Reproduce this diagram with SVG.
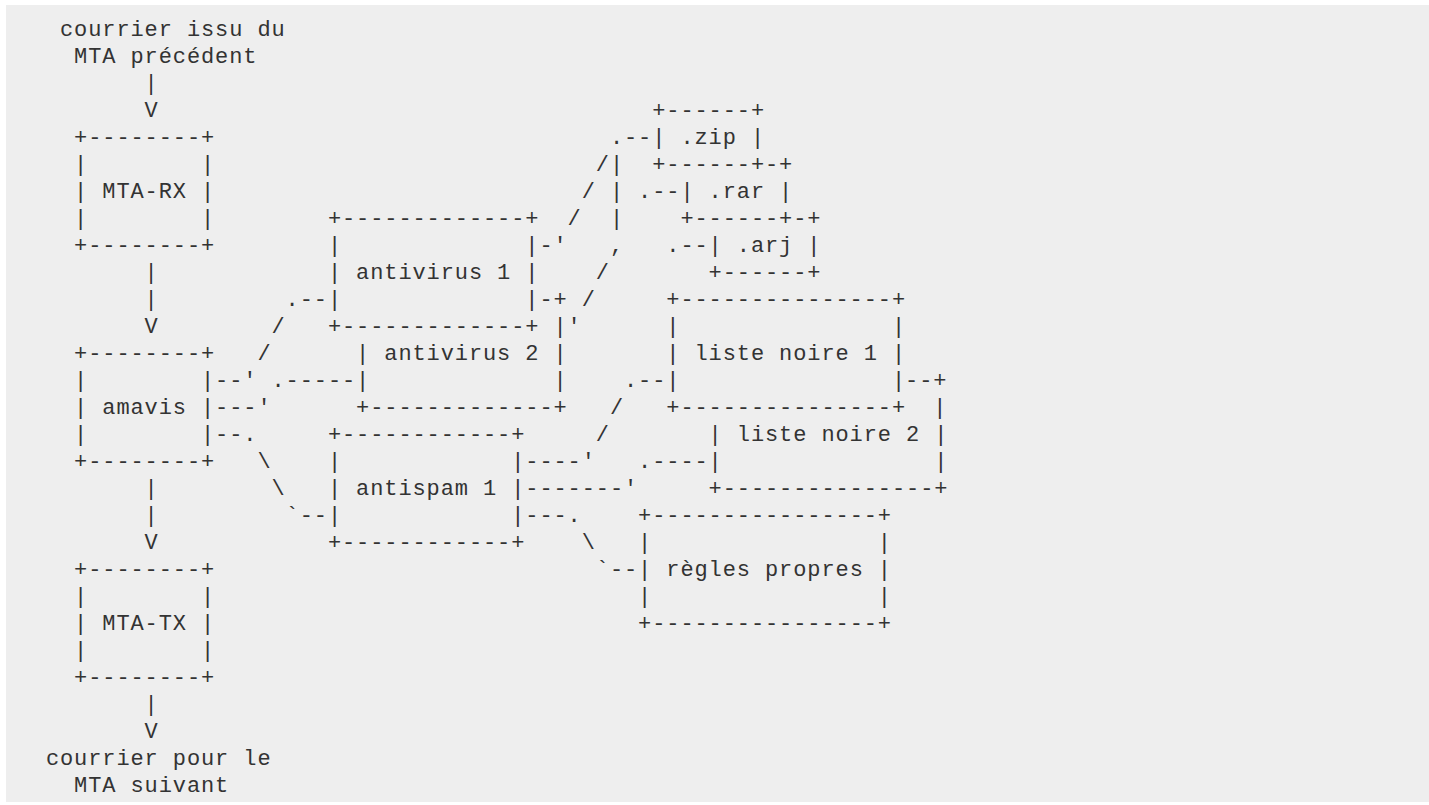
<svg xmlns="http://www.w3.org/2000/svg" width="1429" height="805" viewBox="0 0 1429 805">
<style>
text{font-family:"Liberation Mono","DejaVu Sans Mono",monospace;font-size:22px;letter-spacing:0.9px;fill:#333333;white-space:pre}
</style>
<rect x="6" y="5" width="1423" height="797" fill="#eeeeee"/>
<g id="source">
<text x="60.0" y="36">courrier issu du</text>
<text x="74.1" y="63">MTA précédent</text>
</g>
<g id="mta-rx">
<text x="74.1" y="144">+--------+</text>
<text x="74.1" y="171">|        |</text>
<text x="74.1" y="198">| MTA-RX |</text>
<text x="74.1" y="225">|        |</text>
<text x="74.1" y="252">+--------+</text>
</g>
<g id="amavis">
<text x="74.1" y="360">+--------+</text>
<text x="74.1" y="387">|        |</text>
<text x="74.1" y="414">| amavis |</text>
<text x="74.1" y="441">|        |</text>
<text x="74.1" y="468">+--------+</text>
</g>
<g id="mta-tx">
<text x="74.1" y="576">+--------+</text>
<text x="74.1" y="603">|        |</text>
<text x="74.1" y="630">| MTA-TX |</text>
<text x="74.1" y="657">|        |</text>
<text x="74.1" y="684">+--------+</text>
</g>
<g id="destination">
<text x="45.9" y="765">courrier pour le</text>
<text x="74.1" y="792">MTA suivant</text>
</g>
<g id="antivirus1">
<text x="327.9" y="225">+-------------+</text>
<text x="327.9" y="252">|             |</text>
<text x="327.9" y="279">| antivirus 1 |</text>
<text x="327.9" y="306">|             |</text>
<text x="327.9" y="333">+-------------+</text>
</g>
<g id="antivirus2">
<text x="553.5" y="333">|</text>
<text x="356.1" y="360">| antivirus 2 |</text>
<text x="356.1" y="387">|             |</text>
<text x="356.1" y="414">+-------------+</text>
</g>
<g id="antispam1">
<text x="327.9" y="441">+------------+</text>
<text x="327.9" y="468">|            |</text>
<text x="327.9" y="495">| antispam 1 |</text>
<text x="327.9" y="522">|            |</text>
<text x="327.9" y="549">+------------+</text>
</g>
<g id="zip">
<text x="652.2" y="117">+------+</text>
<text x="652.2" y="144">| .zip |</text>
<text x="652.2" y="171">+------+</text>
</g>
<g id="rar">
<text x="765.0" y="171">-+</text>
<text x="680.4" y="198">| .rar |</text>
<text x="680.4" y="225">+------+</text>
</g>
<g id="arj">
<text x="793.2" y="225">-+</text>
<text x="708.6" y="252">| .arj |</text>
<text x="708.6" y="279">+------+</text>
</g>
<g id="liste-noire-1">
<text x="666.3" y="306">+---------------+</text>
<text x="666.3" y="333">|               |</text>
<text x="666.3" y="360">| liste noire 1 |</text>
<text x="666.3" y="387">|               |</text>
<text x="666.3" y="414">+---------------+</text>
</g>
<g id="liste-noire-2">
<text x="905.1" y="387">--+</text>
<text x="933.3" y="414">|</text>
<text x="708.6" y="441">| liste noire 2 |</text>
<text x="708.6" y="468">|               |</text>
<text x="708.6" y="495">+---------------+</text>
</g>
<g id="regles-propres">
<text x="638.1" y="522">+----------------+</text>
<text x="638.1" y="549">|                |</text>
<text x="638.1" y="576">| règles propres |</text>
<text x="638.1" y="603">|                |</text>
<text x="638.1" y="630">+----------------+</text>
</g>
<g id="connectors">
<text x="144.6" y="90">|</text>
<text x="144.6" y="117">V</text>
<text x="144.6" y="279">|</text>
<text x="144.6" y="306">|</text>
<text x="144.6" y="333">V</text>
<text x="144.6" y="495">|</text>
<text x="144.6" y="522">|</text>
<text x="144.6" y="549">V</text>
<text x="144.6" y="711">|</text>
<text x="144.6" y="738">V</text>
<text x="285.6" y="306">.--</text>
<text x="271.5" y="333">/</text>
<text x="257.4" y="360">/</text>
<text x="215.1" y="387">--'</text>
<text x="271.5" y="387">.-----</text>
<text x="215.1" y="414">---'</text>
<text x="215.1" y="441">--.</text>
<text x="257.4" y="468">\</text>
<text x="271.5" y="495">\</text>
<text x="285.6" y="522">`--</text>
<text x="609.9" y="144">.--</text>
<text x="595.8" y="171">/|</text>
<text x="581.7" y="198">/ |</text>
<text x="638.1" y="198">.--</text>
<text x="567.6" y="225">/  |</text>
<text x="539.4" y="252">-'   ,   .--</text>
<text x="595.8" y="279">/</text>
<text x="539.4" y="306">-+ /</text>
<text x="567.6" y="333">'</text>
<text x="624.0" y="387">.--</text>
<text x="609.9" y="414">/</text>
<text x="595.8" y="441">/</text>
<text x="525.3" y="468">----'</text>
<text x="638.1" y="468">.----</text>
<text x="525.3" y="495">-------'</text>
<text x="525.3" y="522">---.</text>
<text x="581.7" y="549">\</text>
<text x="595.8" y="576">`--</text>
</g>
</svg>
